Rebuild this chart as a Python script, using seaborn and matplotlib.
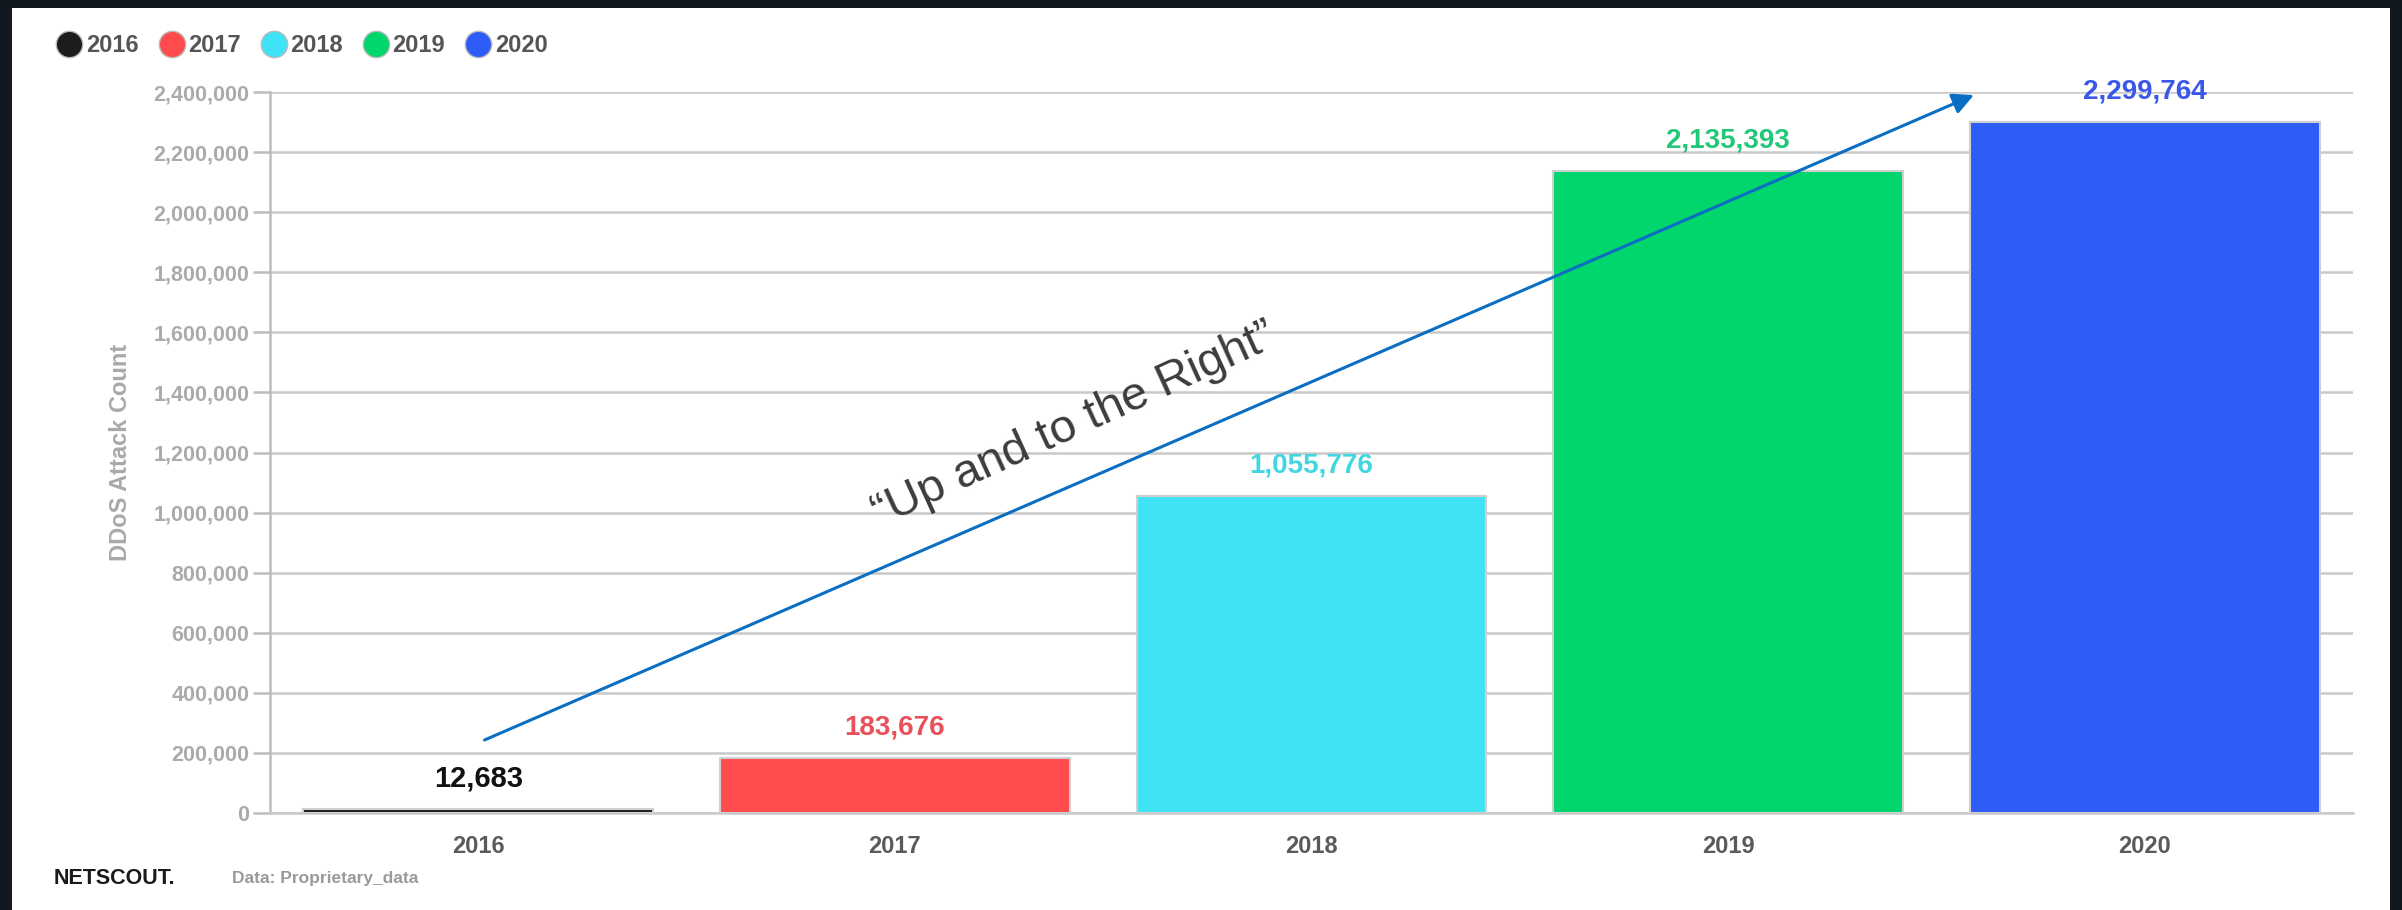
import matplotlib
matplotlib.use("Agg")
import matplotlib.pyplot as plt
import seaborn as sns
import pandas as pd
from matplotlib.lines import Line2D
from matplotlib.patches import Rectangle
from matplotlib.ticker import FuncFormatter, MultipleLocator

# data
years = ["2016", "2017", "2018", "2019", "2020"]
counts = [12683, 183676, 1055776, 2135393, 2299764]
bar_colors = ["#1c1c1c", "#ff4b4e", "#40e2f5", "#00d66c", "#2d5cf6"]
label_colors = ["#111111", "#e8505a", "#42d6e0", "#22c878", "#3a58e8"]

y_label = "DDoS Attack Count"
note_text = "\u201cUp and to the Right\u201d"
arrow_start = (0.015, 243000)
arrow_end = (3.59, 2390000)
note_pos = (1.43, 1290000)

df = pd.DataFrame({"year": years, "count": counts})

sns.set_style("white")
plt.rcParams["font.family"] = ["Liberation Sans", "DejaVu Sans"]

fig = plt.figure(figsize=(24.02, 9.10), dpi=100)
fig.patch.set_facecolor("#121820")
# white panel inside the dark frame
fig.patches.append(Rectangle((12 / 2402, 0), (2390 - 12) / 2402, 1 - 8 / 910,
                             transform=fig.transFigure, facecolor="white",
                             edgecolor="none", zorder=-10))

ax = fig.add_axes([270 / 2402, 1 - 813 / 910, (2353 - 270) / 2402, (813 - 92) / 910])
ax.set_zorder(2)
ax.set_facecolor("white")

sns.barplot(data=df, x="year", y="count", hue="year", palette=bar_colors,
            width=0.84, saturation=1, edgecolor="#cfcfcf", linewidth=1.5,
            legend=False, ax=ax, zorder=3)

ax.set_xlim(-0.5, 4.5)
ax.set_ylim(0, 2400000)
ax.yaxis.set_major_locator(MultipleLocator(200000))
ax.yaxis.set_major_formatter(FuncFormatter(lambda v, p: f"{v:,.0f}"))
ax.set_axisbelow(True)
ax.grid(axis="y", color="#c9c9c9", linewidth=1.8)
ax.grid(axis="x", visible=False)

for s in ["top", "right"]:
    ax.spines[s].set_visible(False)
ax.spines["left"].set_color("#bdbdbd")
ax.spines["left"].set_linewidth(1.8)
ax.spines["bottom"].set_color("#c9c9c9")
ax.spines["bottom"].set_linewidth(1.8)

ax.tick_params(axis="y", left=True, length=12, width=1.8, color="#bdbdbd",
               labelsize=15.5, labelcolor="#ababab", pad=3)
ax.tick_params(axis="x", bottom=False, labelsize=17, labelcolor="#5a5a5a", pad=12)
for t in ax.get_xticklabels():
    t.set_fontweight("bold")
for t in ax.get_yticklabels():
    t.set_fontweight("bold")

ax.set_xlabel("")
ax.set_ylabel(y_label, fontsize=17, color="#a9a9a9", fontweight="bold", labelpad=15)

# value labels above bars
for i, (v, c) in enumerate(zip(counts, label_colors)):
    ax.annotate(f"{v:,}", (i, v), xytext=(0, 22), textcoords="offset points",
                ha="center", va="center", fontsize=21 if i == 0 else 20,
                fontweight="bold", color=c, zorder=5)

# trend arrow and note
ax.annotate("", xy=arrow_end, xytext=arrow_start,
            arrowprops=dict(arrowstyle="-|>", color="#0a6fc2", lw=2.2,
                            mutation_scale=32, shrinkA=0, shrinkB=0), zorder=6)
ax.text(note_pos[0], note_pos[1], note_text, rotation=24.5, rotation_mode="anchor",
        ha="center", va="center", fontsize=34, color="#3c3c3c", zorder=6)

# legend with round markers
handles = [Line2D([0], [0], marker="o", linestyle="", markersize=19,
                  markerfacecolor=c, markeredgecolor="#bbbbbb", markeredgewidth=1)
           for c in bar_colors]
fig.legend(handles, years, loc="center left", bbox_to_anchor=(34 / 2402, 1 - 46 / 910),
           ncol=5, frameon=False, handletextpad=0.1, columnspacing=0.8,
           handlelength=1.2, prop={"size": 17, "weight": "bold"}, labelcolor="#555555")

# footer
fig.text(54 / 2402, 1 - 878 / 910, "NETSCOUT.", fontsize=15.5, fontweight="bold",
         color="#1a1a1a", ha="left", va="center")
fig.text(232 / 2402, 1 - 878 / 910, "Data: Proprietary_data", fontsize=12.5,
         color="#9a9a9a", ha="left", va="center", fontweight="bold")

fig.savefig("out.png", dpi=100, facecolor=fig.get_facecolor())
